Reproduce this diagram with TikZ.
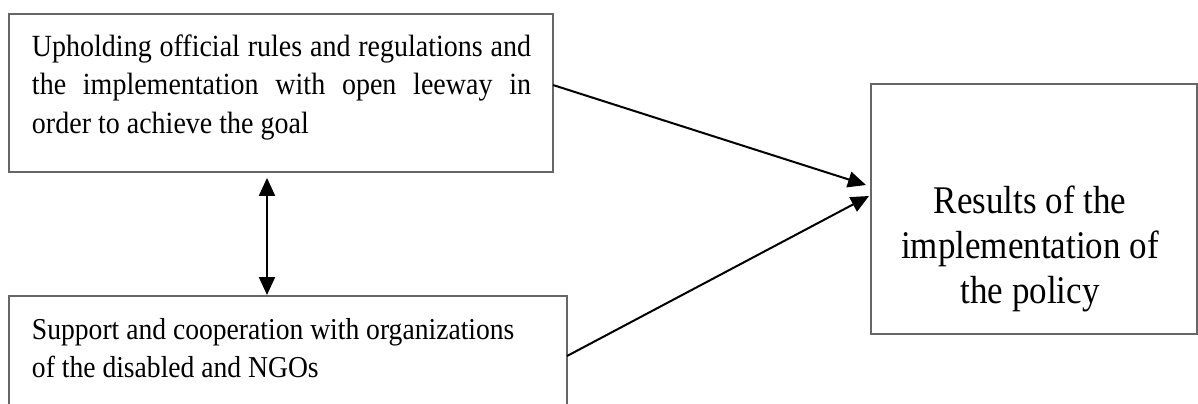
\documentclass[tikz,border=0pt]{standalone}
\usepackage{fontspec}
\setmainfont{Liberation Serif}
\usetikzlibrary{arrows.meta}
\tikzset{
  frame/.style={draw=black!60, line width=0.9pt, inner sep=0pt, fill=none},
  conn/.style={draw=black, line width=1pt, -{Triangle[length=9pt,width=8pt]}},
  txt/.style={inner sep=0pt, outer sep=0pt}
}
\begin{document}
\begin{tikzpicture}[x=0.5pt,y=-0.5pt]
\useasboundingbox (0,0) rectangle (1198,403);
\clip (0,0) rectangle (1198,403);
% boxes
\node[frame, minimum width=272pt, minimum height=79pt] (b1) at (281,93) {};
\node[frame, minimum width=279pt, minimum height=70pt] (b2) at (288,366) {};
\node[frame, minimum width=163pt, minimum height=125pt] (b3) at (1034,209) {};
% texts
\node[txt, anchor=base west] (t1) at (32,56) {\scalebox{1}[1.1]{\parbox[t]{249.5pt}{\fontsize{14}{17.6}\selectfont
\makebox[249.5pt][s]{Upholding official rules and regulations and}\\
\makebox[249.5pt][s]{the implementation with open leeway in}\\
order to achieve the goal}}};
\node[txt, anchor=base west] (t2) at (32,339) {\scalebox{1}[1.1]{\parbox[t]{270pt}{\fontsize{13.8}{17.7}\selectfont
Support and cooperation with organizations\\
of the disabled and NGOs}}};
\node[txt, anchor=base] (t3) at (1030,213) {\scalebox{1}[1.12]{\parbox[t]{160pt}{\centering\fontsize{17.5}{20.3}\selectfont
Results of the\\
implementation of\\
the policy}}};
% connectors
\coordinate (s1) at (553,85);
\coordinate (e1) at (866,185);
\coordinate (s2) at (567,356);
\coordinate (e2) at (869,196);
\draw[conn] (s1) -- (e1);
\draw[conn] (s2) -- (e2);
\draw[conn, {Triangle[length=9pt,width=8pt]}-{Triangle[length=9pt,width=8pt]}] (b1.south -| 267,0) ++(0,5) coordinate (u1) -- (267,295) coordinate (d1);
\end{tikzpicture}
\end{document}
